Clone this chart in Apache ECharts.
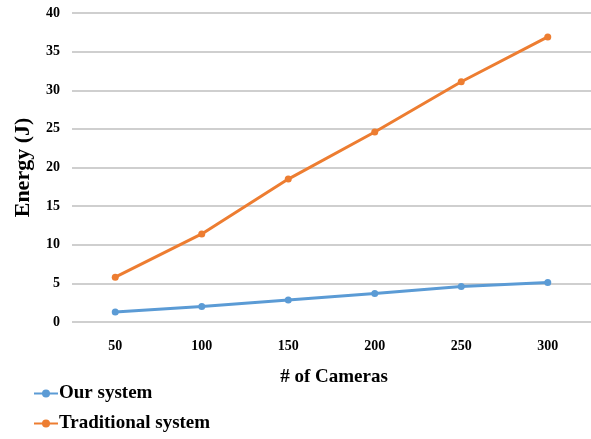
<!DOCTYPE html>
<html>
<head>
<meta charset="utf-8">
<script src="https://cdn.jsdelivr.net/npm/echarts@6/dist/echarts.min.js"></script>
<style>
  html, body { margin: 0; padding: 0; background: #fff; }
  #chart { width: 591px; height: 439px; }
</style>
</head>
<body>
<div id="chart"></div>
<script>
const cameras = ["50", "100", "150", "200", "250", "300"];
const ourSystem = [1.3, 2.0, 2.85, 3.7, 4.6, 5.1];
const traditionalSystem = [5.8, 11.4, 18.5, 24.6, 31.1, 36.9];

const FONT = "Liberation Serif";

const chart = echarts.init(document.getElementById("chart"));

chart.setOption({
  backgroundColor: "#ffffff",
  animation: false,
  grid: {
    left: 72,
    right: 0,
    top: 13,
    bottom: 117,
  },
  legend: {
    orient: "vertical",
    left: 28,
    top: 379,
    itemGap: 11,
    itemWidth: 24,
    itemHeight: 10,
    textStyle: {
      fontFamily: FONT,
      fontWeight: "bold",
      fontSize: 19,
      color: "#000",
      padding: [0, 0, 0, -4],
    },
    data: ["Our system", "Traditional system"],
  },
  xAxis: {
    type: "category",
    data: cameras,
    boundaryGap: true,
    name: "# of Cameras",
    nameLocation: "middle",
    nameGap: 46,
    nameTextStyle: {
      fontFamily: FONT,
      fontWeight: "bold",
      fontSize: 19,
      color: "#000",
      padding: [0, 0, 0, 5],
    },
    axisLine: { show: false },
    axisTick: { show: false },
    axisLabel: {
      fontFamily: FONT,
      fontWeight: "bold",
      fontSize: 14,
      color: "#000",
      margin: 17,
    },
  },
  yAxis: {
    type: "value",
    min: 0,
    max: 40,
    interval: 5,
    name: "Energy (J)",
    nameLocation: "middle",
    nameGap: 38,
    nameTextStyle: {
      fontFamily: FONT,
      fontWeight: "bold",
      fontSize: 22,
      color: "#000",
    },
    axisLine: { show: false },
    axisTick: { show: false },
    axisLabel: {
      fontFamily: FONT,
      fontWeight: "bold",
      fontSize: 14,
      color: "#000",
      margin: 12,
    },
    splitLine: {
      show: true,
      lineStyle: { color: "#bfbfbf", width: 1.5 },
    },
  },
  series: [
    {
      name: "Our system",
      type: "line",
      data: ourSystem,
      symbol: "circle",
      symbolSize: 7,
      color: "#5b9bd5",
      lineStyle: { width: 3, color: "#5b9bd5" },
      itemStyle: { color: "#5b9bd5" },
    },
    {
      name: "Traditional system",
      type: "line",
      data: traditionalSystem,
      symbol: "circle",
      symbolSize: 7,
      color: "#ed7d31",
      lineStyle: { width: 3, color: "#ed7d31" },
      itemStyle: { color: "#ed7d31" },
    },
  ],
});
</script>
</body>
</html>
